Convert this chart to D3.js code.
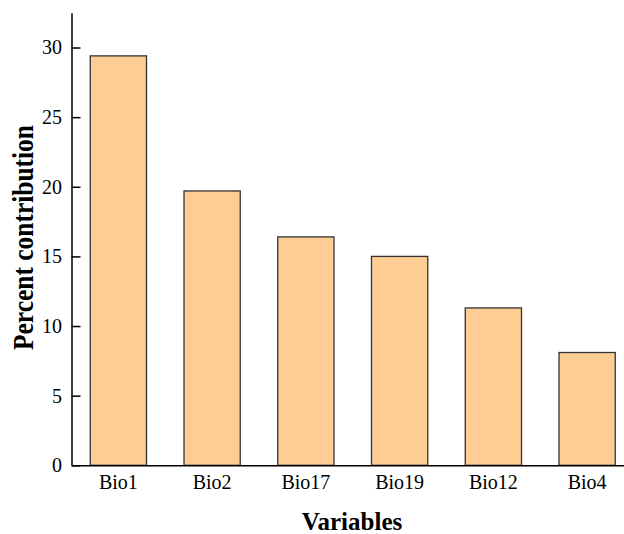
<!DOCTYPE html>
<html>
<head>
<meta charset="utf-8">
<script src="https://cdn.jsdelivr.net/npm/d3@7/dist/d3.min.js"></script>
<style>
html,body{margin:0;padding:0;background:#fff;}
svg{display:block;}
</style>
</head>
<body>
<svg id="chart" width="624" height="534"></svg>
<script>
const categories = ["Bio1", "Bio2", "Bio17", "Bio19", "Bio12", "Bio4"];
const values = [29.4, 19.7, 16.4, 15.0, 11.3, 8.1];
const yTicks = [0, 5, 10, 15, 20, 25, 30];
const xTitle = "Variables";
const yTitle = "Percent contribution";

const svg = d3.select("#chart");
const font = "'Liberation Serif','Times New Roman',serif";

const x = d3.scaleBand().domain(categories).range([71.5, 634]).paddingInner(0.4).paddingOuter(0.2);
const y = d3.scaleLinear().domain([0, 32.5]).range([465.3, 12.7]);

// bars
svg.append("g").selectAll("rect").data(values).join("rect")
  .attr("x", (d, i) => x(categories[i]))
  .attr("width", x.bandwidth())
  .attr("y", d => y(d))
  .attr("height", d => y(0) - y(d))
  .attr("fill", "#fecd94")
  .attr("stroke", "#333")
  .attr("stroke-width", 1.3);

// y axis
const yAxis = svg.append("g").attr("transform", "translate(71.5,0)")
  .call(d3.axisLeft(y).tickValues(yTicks).tickSizeInner(-9).tickSizeOuter(0).tickPadding(9.5));
yAxis.select(".domain").attr("stroke", "#000").attr("stroke-width", 1.5);
yAxis.selectAll(".tick line").attr("stroke", "#000").attr("stroke-width", 1.5);
yAxis.selectAll(".tick text").attr("font-family", font).attr("font-size", 20).attr("fill", "#000");

// x axis
const xAxis = svg.append("g").attr("transform", "translate(0,465.3)")
  .call(d3.axisBottom(x).tickSize(0).tickPadding(10));
xAxis.select(".domain").attr("stroke", "#000").attr("stroke-width", 1.5);
xAxis.selectAll(".tick text").attr("font-family", font).attr("font-size", 20).attr("fill", "#000");

// titles
svg.append("text").attr("x", 352).attr("y", 530)
  .attr("text-anchor", "middle").attr("font-family", font).attr("font-weight", "bold")
  .attr("font-size", 25).text(xTitle);
svg.append("text").attr("transform", "translate(33,237.5) rotate(-90)")
  .attr("text-anchor", "middle").attr("font-family", font).attr("font-weight", "bold")
  .attr("font-size", 30).attr("textLength", 225).attr("lengthAdjust", "spacingAndGlyphs")
  .text(yTitle);
</script>
</body>
</html>
